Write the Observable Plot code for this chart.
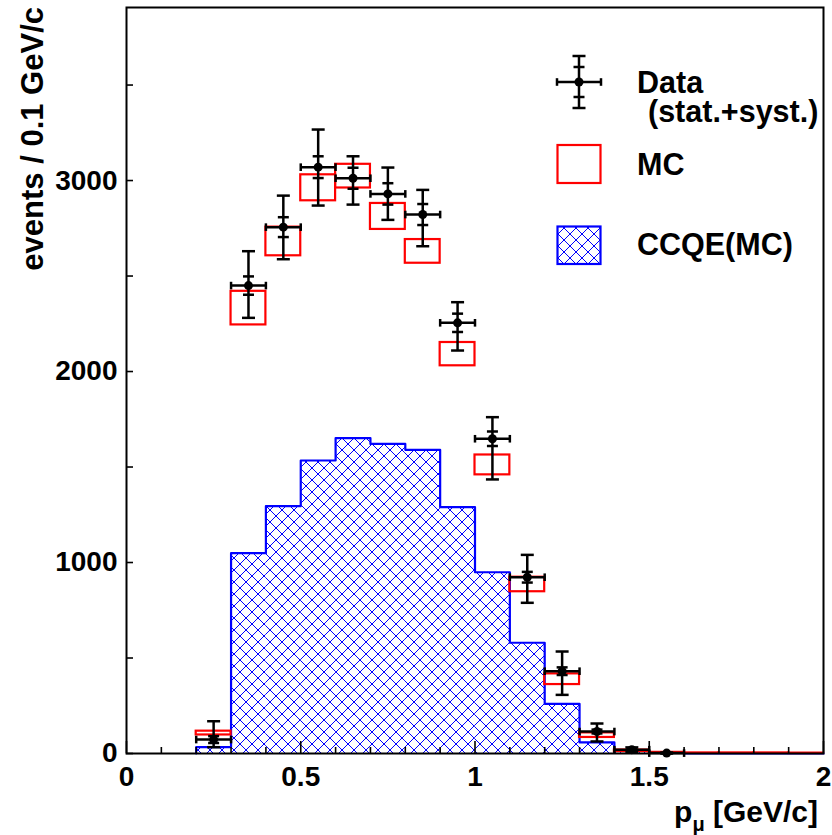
<!DOCTYPE html>
<html>
<head>
<meta charset="utf-8">
<script src="https://cdn.jsdelivr.net/npm/d3@7"></script>
<script src="https://cdn.jsdelivr.net/npm/@observablehq/plot@0.6"></script>
<style>
  body { margin: 0; background: #fff; }
  #chart { position: relative; width: 832px; height: 835px; }
</style>
</head>
<body>
<div id="chart"></div>
<script>
// ---------------- data ----------------
// Data points (bin centers, GeV/c)
const dataX       = [0.25, 0.35, 0.45, 0.55, 0.65, 0.75, 0.85, 0.95, 1.05, 1.15, 1.25, 1.35, 1.45, 1.55];
const dataVal     = [73, 2450, 2756, 3070, 3012, 2930, 2822, 2255, 1648, 923, 431, 115, 20, 2];
const dataStatErr = [18, 48, 52, 57, 55, 56, 55, 48, 38, 28, 20, 10, 5, 1];
const dataTotUp   = [96, 180, 165, 197, 115, 138, 129, 108, 113, 117, 103, 42, 12, 3];
const dataTotDown = [40, 169, 168, 201, 138, 136, 166, 145, 213, 134, 124, 52, 12, 2];
const dataHalfBin = 0.05;

// MC (red error boxes)
const mcX   = [0.25, 0.35, 0.45, 0.55, 0.65, 0.75, 0.85, 0.95, 1.05, 1.15, 1.25, 1.35, 1.45, 1.55, 1.65, 1.75, 1.85, 1.95];
const mcVal = [107, 2332, 2681, 2962, 3023, 2812, 2629, 2091, 1511, 885, 389, 96, 14, 4, 2, 2, 2, 1];
const mcErr = [10, 88, 75, 68, 62, 68, 62, 61, 52, 38, 28, 12, 4, 2, 1, 1, 1, 1];

// CCQE (MC) histogram: lower bin edges, bin width 0.1
const ccqeLow = [0.2, 0.3, 0.4, 0.5, 0.6, 0.7, 0.8, 0.9, 1.0, 1.1, 1.2, 1.3, 1.4, 1.5, 1.6, 1.7, 1.8, 1.9];
const ccqeVal = [33, 1049, 1295, 1534, 1651, 1621, 1590, 1290, 949, 580, 260, 58, 14, 4, 1, 1, 1, 0];
const binWidth = 0.1;

// axis ticks
const xMajorTicks = [0, 0.5, 1, 1.5, 2];
const xMinorTicks = [0.1, 0.2, 0.3, 0.4, 0.6, 0.7, 0.8, 0.9, 1.1, 1.2, 1.3, 1.4, 1.6, 1.7, 1.8, 1.9];
const yMajorTicks = [0, 1000, 2000, 3000];
const yMinorTicks = [500, 1500, 2500, 3500];
const xDomain = [0, 2];
const yDomain = [0, 3906];

// ---------------- tables ----------------
const dataPts = dataX.map((x, i) => ({
  x, v: dataVal[i],
  lo: dataVal[i] - dataTotDown[i], hi: dataVal[i] + dataTotUp[i],
  slo: dataVal[i] - dataStatErr[i], shi: dataVal[i] + dataStatErr[i],
  x1: x - dataHalfBin, x2: x + dataHalfBin
}));
const mcBoxes = mcX.map((x, i) => ({x1: x - binWidth / 2, x2: x + binWidth / 2, y1: mcVal[i] - mcErr[i], y2: mcVal[i] + mcErr[i]}));
const ccqeBins = ccqeLow.map((x, i) => ({x1: x, x2: x + binWidth, v: ccqeVal[i]}));
const ccqeStep = [{x: ccqeLow[0], y: 0}]
  .concat(ccqeLow.map((x, i) => ({x, y: ccqeVal[i]})))
  .concat([{x: ccqeLow[ccqeLow.length - 1] + binWidth, y: ccqeVal[ccqeVal.length - 1]},
           {x: ccqeLow[ccqeLow.length - 1] + binWidth, y: 0}]);

// ---------------- layout ----------------
const W = 832, H = 835, mL = 126, mR = 9, mT = 7, mB = 82;
const innerW = W - mL - mR, innerH = H - mT - mB;
const BLUE = "#0000ff", RED = "#ff0000";

const vbar = {draw(ctx, size) { const r = Math.sqrt(size / Math.PI); ctx.moveTo(0, -r); ctx.lineTo(0, r); }};
const hbar = {draw(ctx, size) { const r = Math.sqrt(size / Math.PI); ctx.moveTo(-r, 0); ctx.lineTo(r, 0); }};
const EW = 2.5;

const svg = Plot.plot({
  width: W, height: H,
  marginLeft: mL, marginRight: mR, marginTop: mT, marginBottom: mB,
  style: {fontFamily: "'Liberation Sans', Arial, Helvetica, sans-serif", fontSize: "28px", fontWeight: "bold", color: "black", background: "white"},
  x: {domain: xDomain, label: null},
  y: {domain: yDomain, label: null},
  marks: [
    Plot.rectY(ccqeBins, {x1: "x1", x2: "x2", y: "v", fill: "url(#xhatch)"}),
    Plot.line(ccqeStep, {x: "x", y: "y", curve: "step-after", stroke: BLUE, strokeWidth: 2.2}),
    Plot.rect(mcBoxes, {x1: "x1", x2: "x2", y1: "y1", y2: "y2", fill: "none", stroke: RED, strokeWidth: 2.2}),
    Plot.ruleY(dataPts, {y: "v", x1: "x1", x2: "x2", stroke: "black", strokeWidth: EW}),
    Plot.ruleX(dataPts, {x: "x", y1: "lo", y2: "hi", stroke: "black", strokeWidth: EW}),
    Plot.dot(dataPts, {x: "x", y: "hi", symbol: hbar, r: 6.5, stroke: "black", strokeWidth: EW, fill: "none"}),
    Plot.dot(dataPts, {x: "x", y: "lo", symbol: hbar, r: 6.5, stroke: "black", strokeWidth: EW, fill: "none"}),
    Plot.dot(dataPts, {x: "x", y: "shi", symbol: hbar, r: 5.5, stroke: "black", strokeWidth: EW, fill: "none"}),
    Plot.dot(dataPts, {x: "x", y: "slo", symbol: hbar, r: 5.5, stroke: "black", strokeWidth: EW, fill: "none"}),
    Plot.dot(dataPts, {x: "x1", y: "v", symbol: vbar, r: 3.8, stroke: "black", strokeWidth: EW, fill: "none"}),
    Plot.dot(dataPts, {x: "x2", y: "v", symbol: vbar, r: 3.8, stroke: "black", strokeWidth: EW, fill: "none"}),
    Plot.dot(dataPts, {x: "x", y: "v", r: 4.5, fill: "black", stroke: "none"}),
    // inward ticks
    Plot.ruleX(xMajorTicks, {x: d => d, insetTop: innerH - 12, stroke: "black", strokeWidth: 1.6}),
    Plot.ruleX(xMinorTicks, {x: d => d, insetTop: innerH - 6, stroke: "black", strokeWidth: 1.6}),
    Plot.ruleY(yMajorTicks.concat(yMinorTicks), {y: d => d, insetRight: innerW - 7, stroke: "black", strokeWidth: 1.6}),
    Plot.axisX({ticks: xMajorTicks, tickSize: 0, tickPadding: 13, tickFormat: d => String(d), label: null}),
    Plot.axisY({ticks: yMajorTicks, tickSize: 0, tickPadding: 9, tickFormat: d => String(d), label: null}),
    Plot.frame({stroke: "black", strokeWidth: 2})
  ]
});

// hatch pattern
const s = d3.select(svg);
const defs = s.insert("defs", ":first-child");
const pat = defs.append("pattern").attr("id", "xhatch").attr("patternUnits", "userSpaceOnUse")
  .attr("width", 12).attr("height", 12);
pat.append("rect").attr("width", 12).attr("height", 12).attr("fill", "white");
pat.append("path").attr("d", "M0,0L12,12M12,0L0,12M-2,10L2,14M10,-2L14,2M-2,2L2,-2M10,14L14,10")
  .attr("stroke", BLUE).attr("stroke-width", 1).attr("fill", "none");

// axis titles
s.append("text").attr("transform", "translate(43,7) rotate(-90)").attr("text-anchor", "end")
  .attr("font-size", 31).attr("font-weight", "bold").attr("fill", "black").text("events / 0.1 GeV/c");
const xt = s.append("text").attr("x", 818).attr("y", 822).attr("text-anchor", "end")
  .attr("font-size", 30).attr("font-weight", "bold").attr("fill", "black");
xt.append("tspan").text("p");
xt.append("tspan").attr("font-size", 20).attr("dy", 9).text("μ");
xt.append("tspan").attr("dy", -9).text(" [GeV/c]");

// legend
const lg = s.append("g");
const cx = 579, cy = 82;
const ln = (x1, y1, x2, y2) => lg.append("line").attr("x1", x1).attr("y1", y1).attr("x2", x2).attr("y2", y2)
  .attr("stroke", "black").attr("stroke-width", EW);
ln(557, cy, 601, cy); ln(557, cy - 3.8, 557, cy + 3.8); ln(601, cy - 3.8, 601, cy + 3.8);
ln(cx, cy - 26, cx, cy + 26);
ln(cx - 6.5, cy - 26, cx + 6.5, cy - 26); ln(cx - 6.5, cy + 26, cx + 6.5, cy + 26);
ln(cx - 5.5, cy - 15, cx + 5.5, cy - 15); ln(cx - 5.5, cy + 15, cx + 5.5, cy + 15);
lg.append("circle").attr("cx", cx).attr("cy", cy).attr("r", 4.5).attr("fill", "black");
lg.append("rect").attr("x", 557.5).attr("y", 145).attr("width", 43).attr("height", 38)
  .attr("fill", "none").attr("stroke", RED).attr("stroke-width", 2.2);
lg.append("rect").attr("x", 557.5).attr("y", 226.5).attr("width", 43).attr("height", 37.5)
  .attr("fill", "url(#xhatch)").attr("stroke", BLUE).attr("stroke-width", 2.2);
const lt = (x, y, t) => lg.append("text").attr("x", x).attr("y", y).attr("text-anchor", "start")
  .attr("font-size", 30.5).attr("font-weight", "bold").attr("fill", "black").text(t);
lt(637, 93, "Data");
lt(648, 122, "(stat.+syst.)");
lt(637, 175, "MC");
lt(637, 255, "CCQE(MC)");

document.getElementById("chart").appendChild(svg);
</script>
</body>
</html>
